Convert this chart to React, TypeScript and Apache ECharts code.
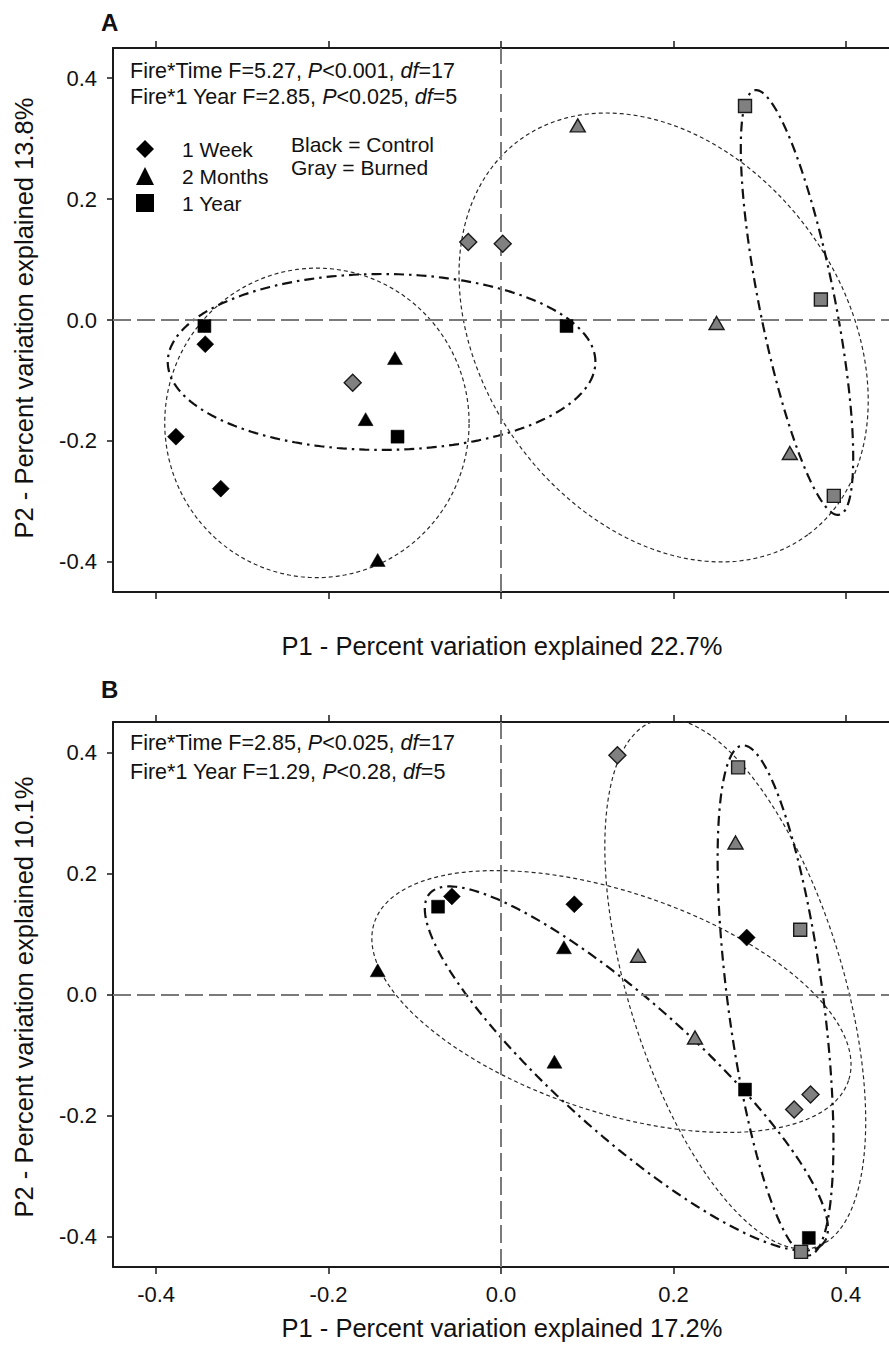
import React, { useEffect, useRef } from "react";
import * as echarts from "echarts";

// ---- axis ticks ----
const TICKS = [-0.4, -0.2, 0, 0.2, 0.4];

// ---- Panel A: [P1, P2] ----
const A_CONTROL_WEEK = [[-0.377, -0.193], [-0.343, -0.040], [-0.325, -0.279]];
const A_CONTROL_MONTHS = [[-0.123, -0.063], [-0.157, -0.164], [-0.143, -0.397]];
const A_CONTROL_YEAR = [[-0.344, -0.010], [-0.120, -0.193], [0.076, -0.010]];
const A_BURNED_WEEK = [[-0.172, -0.104], [-0.038, 0.129], [0.002, 0.126]];
const A_BURNED_MONTHS = [[0.089, 0.322], [0.250, -0.005], [0.335, -0.220]];
const A_BURNED_YEAR = [[0.283, 0.354], [0.371, 0.034], [0.386, -0.291]];

// ---- Panel B: [P1, P2] ----
const B_CONTROL_WEEK = [[-0.057, 0.162], [0.085, 0.149], [0.285, 0.094]];
const B_CONTROL_MONTHS = [[0.073, 0.078], [-0.143, 0.040], [0.062, -0.111]];
const B_CONTROL_YEAR = [[-0.073, 0.145], [0.283, -0.157], [0.357, -0.402]];
const B_BURNED_WEEK = [[0.135, 0.395], [0.340, -0.190], [0.359, -0.165]];
const B_BURNED_MONTHS = [[0.225, -0.071], [0.272, 0.251], [0.159, 0.064]];
const B_BURNED_YEAR = [[0.275, 0.375], [0.347, 0.107], [0.348, -0.425]];

// ---- ellipses: [cx, cy, ux, uy, vx, vy] (center + conjugate semi-axes, data units) ----
const A_ELLIPSE_CONTROL = [-0.2135, -0.1702, 0.1765, 0, 0, 0.256];
const A_ELLIPSE_CONTROL_YEAR = [-0.1385, -0.0694, 0.248, 0, 0, 0.1455];
const A_ELLIPSE_BURNED = [0.1886, -0.0289, 0.1673, -0.3264, -0.1683, -0.1771];
const A_ELLIPSE_BURNED_YEAR = [0.3433, 0.0289, 0.049, -0.3512, -0.043, -0.0123];
const B_ELLIPSE_CONTROL = [0.1281, -0.0116, 0.275, -0.1303, -0.0399, -0.1726];
const B_ELLIPSE_CONTROL_YEAR = [0.1454, -0.1223, 0.2281, -0.2891, -0.0512, -0.0829];
const B_ELLIPSE_BURNED = [0.2717, 0.0174, 0.0933, -0.4345, -0.1191, -0.0525];
const B_ELLIPSE_BURNED_YEAR = [0.3184, -0.0099, 0.0387, -0.4211, -0.0549, -0.0104];

const FONT = "'Liberation Sans', Arial, Helvetica, sans-serif";
const GRAY = "#808080";
const INK = "#111111";

function ellipseData(e: number[]) {
  const [cx, cy, ux, uy, vx, vy] = e;
  const pts: number[][] = [];
  const n = 240;
  for (let i = 0; i <= n; i++) {
    const t = (i / n) * Math.PI * 2;
    pts.push([cx + ux * Math.cos(t) + vx * Math.sin(t), cy + uy * Math.cos(t) + vy * Math.sin(t)]);
  }
  return pts;
}

const DOTTED = { color: "#2a2a2a", width: 1.2, type: [4, 3] };
const DASHDOT = { color: "#111", width: 2.2, type: [10, 5, 2.5, 5] };

function ellipseSeries(e: number[], style: any, xi: number, yi: number, zero: boolean) {
  const s: any = {
    type: "line",
    data: ellipseData(e),
    showSymbol: false,
    symbol: "none",
    smooth: false,
    clip: true,
    silent: true,
    xAxisIndex: xi,
    yAxisIndex: yi,
    lineStyle: style,
    z: 3,
  };
  if (zero) {
    s.markLine = {
      silent: true,
      symbol: ["none", "none"],
      label: { show: false },
      lineStyle: { color: "#7a7a7a", width: 2, type: [18, 6] },
      data: [{ xAxis: 0 }, { yAxis: 0 }],
    };
  }
  return s;
}

function scatter(name: string, data: number[][], symbol: string, size: number[], burned: boolean, xi: number, yi: number) {
  return {
    type: "scatter",
    name,
    data,
    symbol,
    symbolSize: size,
    xAxisIndex: xi,
    yAxisIndex: yi,
    silent: true,
    z: 5,
    itemStyle: burned
      ? { color: GRAY, borderColor: "#1a1a1a", borderWidth: 1.4, opacity: 1 }
      : { color: "#000", borderColor: "#000", borderWidth: 0.5, opacity: 1 },
  };
}

const DIA = [17, 17];
const TRI = [15, 13];
const SQ = [13, 13];

function xAxis(grid: number, pos: string, labels: boolean) {
  return {
    type: "value",
    gridIndex: grid,
    position: pos,
    min: -0.45,
    max: 0.45,
    axisLine: { show: true, onZero: false, lineStyle: { color: "#1a1a1a", width: 2 } },
    axisTick: { show: true, inside: false, length: 7, customValues: TICKS, lineStyle: { color: "#1a1a1a", width: 1.5 } },
    axisLabel: {
      show: labels,
      customValues: TICKS,
      margin: 16,
      fontSize: 22,
      color: INK,
      fontFamily: FONT,
      formatter: (v: number) => v.toFixed(1),
    },
    splitLine: { show: false },
  };
}

function yAxis(grid: number) {
  return {
    type: "value",
    gridIndex: grid,
    position: "left",
    min: -0.45,
    max: 0.45,
    axisLine: { show: true, onZero: false, lineStyle: { color: "#1a1a1a", width: 2 } },
    axisTick: { show: true, inside: false, length: 6, customValues: TICKS, lineStyle: { color: "#1a1a1a", width: 1.5 } },
    axisLabel: {
      show: true,
      customValues: TICKS,
      margin: 16,
      fontSize: 22,
      color: INK,
      fontFamily: FONT,
      formatter: (v: number) => v.toFixed(1),
    },
    splitLine: { show: false },
  };
}

function txt(text: string, x: number, y: number, size: number, extra: any = {}) {
  return {
    type: "text",
    x,
    y,
    silent: true,
    style: {
      text,
      fontSize: size,
      fontFamily: FONT,
      fill: INK,
      verticalAlign: "middle",
      align: "left",
      rich: { i: { fontStyle: "italic", fontSize: size, fontFamily: FONT, fill: INK } },
      ...extra,
    },
  };
}

export default function App() {
  const ref = useRef<HTMLDivElement>(null);
  useEffect(() => {
    if (!ref.current) return;
    const chart = echarts.init(ref.current, null, { renderer: "svg" });
    const option: any = {
      animation: false,
      backgroundColor: "#ffffff",
      grid: [
        { left: 113, top: 48, width: 780, height: 544 },
        { left: 113, top: 722, width: 780, height: 545 },
      ],
      xAxis: [xAxis(0, "bottom", false), xAxis(0, "top", false), xAxis(1, "bottom", true), xAxis(1, "top", false)],
      yAxis: [yAxis(0), yAxis(1)],
      legend: {
        orient: "vertical",
        left: 131,
        top: 132,
        itemWidth: 18,
        itemHeight: 18,
        itemGap: 3,
        selectedMode: false,
        itemStyle: { color: "#000", borderWidth: 0, opacity: 1 },
        data: [
          { name: "1 Week", icon: "diamond" },
          { name: "2 Months", icon: "triangle" },
          { name: "1 Year", icon: "rect" },
        ],
        textStyle: { fontSize: 21, color: INK, fontFamily: FONT, lineHeight: 24, padding: [0, 0, 0, 23] },
      },
      series: [
        ellipseSeries(A_ELLIPSE_CONTROL, DOTTED, 0, 0, true),
        ellipseSeries(A_ELLIPSE_CONTROL_YEAR, DASHDOT, 0, 0, false),
        ellipseSeries(A_ELLIPSE_BURNED, DOTTED, 0, 0, false),
        ellipseSeries(A_ELLIPSE_BURNED_YEAR, DASHDOT, 0, 0, false),
        ellipseSeries(B_ELLIPSE_CONTROL, DOTTED, 2, 1, true),
        ellipseSeries(B_ELLIPSE_CONTROL_YEAR, DASHDOT, 2, 1, false),
        ellipseSeries(B_ELLIPSE_BURNED, DOTTED, 2, 1, false),
        ellipseSeries(B_ELLIPSE_BURNED_YEAR, DASHDOT, 2, 1, false),
        scatter("1 Week", A_CONTROL_WEEK, "diamond", DIA, false, 0, 0),
        scatter("2 Months", A_CONTROL_MONTHS, "triangle", TRI, false, 0, 0),
        scatter("1 Year", A_CONTROL_YEAR, "rect", SQ, false, 0, 0),
        scatter("1 Week burned A", A_BURNED_WEEK, "diamond", DIA, true, 0, 0),
        scatter("2 Months burned A", A_BURNED_MONTHS, "triangle", TRI, true, 0, 0),
        scatter("1 Year burned A", A_BURNED_YEAR, "rect", SQ, true, 0, 0),
        scatter("1 Week control B", B_CONTROL_WEEK, "diamond", DIA, false, 2, 1),
        scatter("2 Months control B", B_CONTROL_MONTHS, "triangle", TRI, false, 2, 1),
        scatter("1 Year control B", B_CONTROL_YEAR, "rect", SQ, false, 2, 1),
        scatter("1 Week burned B", B_BURNED_WEEK, "diamond", DIA, true, 2, 1),
        scatter("2 Months burned B", B_BURNED_MONTHS, "triangle", TRI, true, 2, 1),
        scatter("1 Year burned B", B_BURNED_YEAR, "rect", SQ, true, 2, 1),
      ],
      graphic: [
        txt("A", 101, 22, 24, { fontWeight: "bold" }),
        txt("B", 101, 689, 24, { fontWeight: "bold" }),
        txt("Fire*Time F=5.27, {i|P}<0.001, {i|df}=17", 130, 71, 21.5),
        txt("Fire*1 Year F=2.85, {i|P}<0.025, {i|df}=5", 130, 97, 21.5),
        txt("Black = Control", 291, 144, 21),
        txt("Gray = Burned", 291, 167, 21),
        txt("Fire*Time F=2.85, {i|P}<0.025, {i|df}=17", 130, 743, 21.5),
        txt("Fire*1 Year F=1.29, {i|P}<0.28, {i|df}=5", 130, 772, 21.5),
        txt("P1 - Percent variation explained 22.7%", 502, 646, 25.5, { align: "center" }),
        txt("P1 - Percent variation explained 17.2%", 502, 1328, 25.5, { align: "center" }),
        { ...txt("P2 - Percent variation explained 13.8%", 24, 318, 25.5, { align: "center" }), rotation: Math.PI / 2 },
        { ...txt("P2 - Percent variation explained 10.1%", 24, 997, 25.5, { align: "center" }), rotation: Math.PI / 2 },
      ],
    };
    chart.setOption(option);
    return () => chart.dispose();
  }, []);
  return (
    <div
      ref={ref}
      style={{ position: "absolute", left: 0, top: 0, width: 889, height: 1347, background: "#fff" }}
    />
  );
}
